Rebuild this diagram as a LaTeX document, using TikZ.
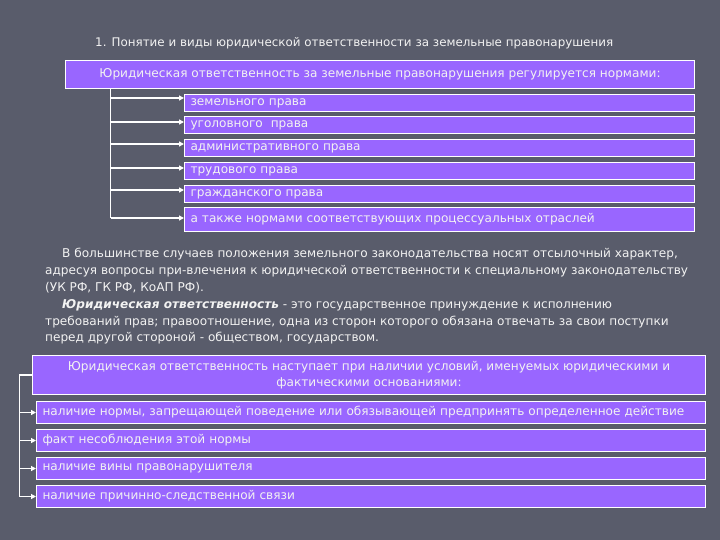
\documentclass[tikz,border=0pt]{standalone}
\usepackage{fontspec}
\setmainfont{DejaVu Sans}
\usetikzlibrary{arrows.meta}
\definecolor{bgc}{RGB}{89,92,107}
\definecolor{boxc}{RGB}{153,102,255}
\definecolor{txt}{RGB}{242,242,242}
\begin{document}
\begin{tikzpicture}[x=1pt,y=-1pt,
  font=\fontsize{12.1}{16}\selectfont,
  box/.style={draw=white, line width=1pt, fill=boxc, text=txt, inner sep=0pt, anchor=north west},
  row/.style={box, inner xsep=6pt, align=left},
  arr/.style={draw=white, line width=1.2pt, -{Triangle[length=5pt,width=5pt]}},
  ln/.style={draw=white, line width=1.2pt},
  para/.style={text=txt, anchor=base west, inner sep=0pt}]
\fill[bgc] (0,0) rectangle (720,540);
\useasboundingbox (0,0) rectangle (720,540);

\node[text=txt, anchor=base west, inner sep=0pt, font=\fontsize{11.9}{16}\selectfont] (title) at (95,47)
  {1. Понятие и виды юридической ответственности за земельные правонарушения};

\node[box, minimum width=629pt, minimum height=28pt] (top) at (65,60)
  {Юридическая ответственность за земельные правонарушения регулируется нормами:};

\node[row, text width=498pt, minimum height=17pt] (r1) at (184,94) {земельного права};
\node[row, text width=498pt, minimum height=17pt] (r2) at (184,116) {уголовного\ \ права};
\node[row, text width=498pt, minimum height=17pt] (r3) at (184,139) {административного права};
\node[row, text width=498pt, minimum height=17pt] (r4) at (184,162) {трудового права};
\node[row, text width=498pt, minimum height=17pt] (r5) at (184,185) {гражданского права};
\node[row, text width=498pt, minimum height=24pt] (r6) at (184,207) {а также нормами соответствующих процессуальных отраслей};

\coordinate (a1) at (110.7,98);
\coordinate (a2) at (110.7,122);
\coordinate (a3) at (110.7,144);
\coordinate (a4) at (110.7,168);
\coordinate (a5) at (110.7,190);
\coordinate (a6) at (110.7,218);
\draw[ln] (a1 |- top.south) -- (a6);
\foreach \i in {1,...,6}{\draw[arr] (a\i) -- (a\i -| r\i.west);}

\node[para] (p1) at (62,257) {В большинстве случаев положения земельного законодательства носят отсылочный характер,};
\node[para] (p2) at (45,274) {адресуя вопросы при-влечения к юридической ответственности к специальному законодательству};
\node[para] (p3) at (45,291) {(УК РФ, ГК РФ, КоАП РФ).};
\node[para] (p4) at (62,308) {\textbf{\textit{Юридическая ответственность}} - это государственное принуждение к исполнению};
\node[para] (p5) at (45,325) {требований прав; правоотношение, одна из сторон которого обязана отвечать за свои поступки};
\node[para] (p6) at (45,341) {перед другой стороной - обществом, государством.};

\node[box, minimum width=673pt, minimum height=39pt, align=center] (bot) at (32,355)
  {Юридическая ответственность наступает при наличии условий, именуемых юридическими и\\фактическими основаниями:};

\node[row, text width=657pt, minimum height=22pt] (s1) at (36,401) {наличие нормы, запрещающей поведение или обязывающей предпринять определенное действие};
\node[row, text width=657pt, minimum height=22pt] (s2) at (36,429) {факт несоблюдения этой нормы};
\node[row, text width=657pt, minimum height=22pt] (s3) at (36,457) {наличие вины правонарушителя};
\node[row, text width=657pt, minimum height=22pt] (s4) at (36,485) {наличие причинно-следственной связи};

\coordinate (b0) at (19.3,377);
\draw[ln] (bot.west) -- (bot.west -| b0) -- (b0 |- s4.west);
\foreach \i in {1,...,4}{\draw[arr] (b0 |- s\i.west) -- (s\i.west);}
\end{tikzpicture}
\end{document}
